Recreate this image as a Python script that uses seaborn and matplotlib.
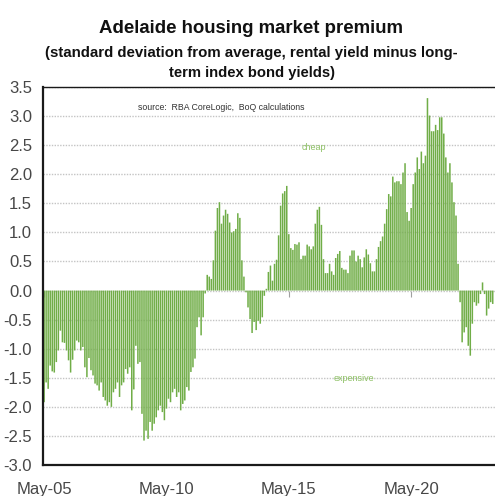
import matplotlib

matplotlib.use("Agg")
import matplotlib.pyplot as plt
import numpy as np
import pandas as pd
import seaborn as sns

# monthly values from May-05
PREMIUM = [
    -1.92, -1.58, -1.69, -1.29, -1.39, -1.41, -1.23, -1.03, -0.69, -0.89,
    -0.90, -1.03, -1.20, -1.41, -1.19, -1.03, -0.86, -0.89, -1.03, -0.97,
    -1.32, -1.49, -1.16, -1.37, -1.46, -1.60, -1.63, -1.72, -1.58, -1.83,
    -1.89, -1.98, -1.92, -2.00, -1.75, -1.69, -1.58, -1.83, -1.63, -1.58,
    -1.35, -1.43, -1.32, -2.06, -1.70, -0.95, -1.26, -1.23, -2.12, -2.58,
    -2.41, -2.55, -2.26, -2.41, -2.29, -2.18, -2.06, -1.98, -2.09, -2.23,
    -2.03, -1.86, -1.92, -1.75, -1.69, -1.83, -1.75, -2.06, -1.95, -1.89,
    -1.66, -1.72, -1.40, -1.32, -1.17, -0.63, -0.46, -0.77, -0.46, -0.05,
    0.27, 0.24, 0.20, 0.52, 1.03, 1.42, 1.52, 1.15, 1.29, 1.39,
    1.32, 1.17, 1.00, 1.02, 1.06, 1.33, 1.25, 0.52, 0.24, -0.03,
    -0.29, -0.49, -0.73, -0.54, -0.68, -0.52, -0.57, -0.46, -0.09, 0.03,
    0.32, 0.43, 0.17, 0.46, 0.53, 0.95, 1.46, 1.67, 1.71, 1.80,
    0.97, 0.73, 0.70, 0.80, 0.79, 0.83, 0.54, 0.60, 0.60, 0.79,
    0.76, 0.71, 0.76, 1.15, 1.39, 1.44, 1.13, 0.54, 0.30, 0.30,
    0.46, 0.33, 0.27, 0.56, 0.63, 0.68, 0.39, 0.36, 0.36, 0.30,
    0.60, 0.69, 0.69, 0.50, 0.60, 0.54, 0.40, 0.57, 0.71, 0.62,
    0.47, 0.33, 0.33, 0.54, 0.75, 0.85, 0.93, 1.15, 1.40, 1.66,
    1.62, 1.96, 1.86, 1.88, 1.88, 1.83, 2.03, 2.19, 1.35, 1.20,
    1.42, 1.83, 2.03, 2.29, 2.09, 2.39, 2.19, 2.32, 3.31, 3.01,
    2.74, 2.74, 2.85, 2.76, 2.98, 2.98, 2.70, 2.29, 2.03, 2.19,
    1.86, 1.52, 1.29, 0.46, -0.20, -0.89, -0.72, -0.63, -0.95, -1.12,
    -0.57, -0.20, -0.26, -0.22, -0.06, 0.14, -0.06, -0.43, -0.31, -0.20,
    -0.23,
]
START_MONTH = "2005-05-01"
TICK_LABELS = ["May-05", "May-10", "May-15", "May-20"]
Y_TICKS = [-3.0, -2.5, -2.0, -1.5, -1.0, -0.5, 0.0, 0.5, 1.0, 1.5, 2.0, 2.5, 3.0, 3.5]

TITLE = "Adelaide housing market premium"
SUBTITLE_1 = "(standard deviation from average, rental yield minus long-"
SUBTITLE_2 = "term index bond yields)"
SOURCE = "source:  RBA CoreLogic,  BoQ calculations"

GREEN = "#70AD47"
FONTS = ["Liberation Sans Narrow", "Liberation Sans", "DejaVu Sans"]

sns.set_theme(style="white")
plt.rcParams["font.family"] = FONTS

months = pd.date_range(START_MONTH, periods=len(PREMIUM), freq="MS")
df = pd.DataFrame({"month": months.strftime("%b-%y"), "premium": PREMIUM})

fig = plt.figure(figsize=(4.95, 4.96), dpi=100)
ax = fig.add_axes([0.087, 0.0625, 0.915, 0.762])

sns.barplot(
    data=df,
    x="month",
    y="premium",
    color=GREEN,
    saturation=1,
    width=0.75,
    linewidth=0,
    edgecolor="none",
    snap=False,
    ax=ax,
)

ax.set_ylim(-3.0, 3.5)
ax.set_xlim(-0.5, len(PREMIUM) + 0.6)
ax.set_yticks(Y_TICKS)
ax.set_yticklabels([f"{t:.1f}" for t in Y_TICKS])
ax.yaxis.grid(True, color="#c4c4c4", linestyle=(0, (1, 1)), linewidth=1.0)
ax.set_axisbelow(True)

tick_pos = [i for i, lab in enumerate(df["month"]) if lab in TICK_LABELS]
ax.set_xticks(tick_pos)
ax.set_xticklabels(TICK_LABELS)
ax.tick_params(axis="both", length=0, labelsize=12, colors="#474747")
ax.tick_params(axis="y", pad=8)
ax.tick_params(axis="x", pad=12)
ax.set_xlabel("")
ax.set_ylabel("")

for side in ["left", "bottom", "top"]:
    ax.spines[side].set_visible(True)
    ax.spines[side].set_color("#1a1a1a")
ax.spines["left"].set_linewidth(1.6)
ax.spines["bottom"].set_linewidth(1.6)
ax.spines["top"].set_linewidth(1.0)
ax.spines["right"].set_visible(False)

# small tick marks where the category axis crosses zero
zero_frac = (0 - ax.get_ylim()[0]) / (ax.get_ylim()[1] - ax.get_ylim()[0])
sec = ax.secondary_xaxis(zero_frac)
sec.set_xticks(tick_pos)
sec.set_xticklabels([])
sec.tick_params(length=4, width=0.8, color="#a0a0a0", direction="out")
sec.spines["bottom"].set_visible(False)

ax.text(0.21, 0.947, SOURCE, transform=ax.transAxes, fontsize=6.3,
        color="#333333", va="center")
ax.text(0.597, 0.839, "cheap", transform=ax.transAxes, fontsize=6.5,
        color="#8cc063", ha="center", va="center")
ax.text(0.686, 0.230, "expensive", transform=ax.transAxes, fontsize=6.5,
        color="#8cc063", ha="center", va="center")

fig.text(0.508, 0.9335, TITLE, ha="center", va="baseline",
         fontsize=13.4, fontweight="bold", color="#111111")
fig.text(0.508, 0.886, SUBTITLE_1, ha="center", va="baseline",
         fontsize=10.85, fontweight="bold", color="#111111")
fig.text(0.509, 0.844, SUBTITLE_2, ha="center", va="baseline",
         fontsize=10.6, fontweight="bold", color="#111111")

fig.savefig("out.png", dpi=100)
plt.close(fig)
